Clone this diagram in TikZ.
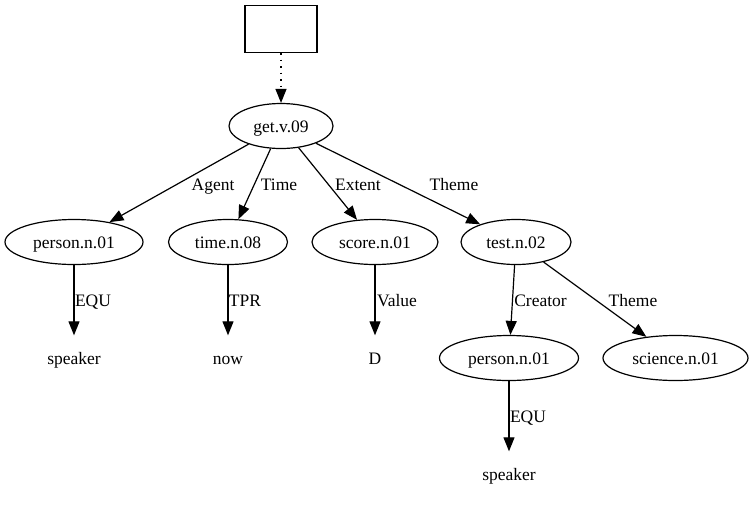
\documentclass[tikz,border=0pt]{standalone}
\usepackage{fontspec}
\setmainfont{Liberation Serif}
\usetikzlibrary{arrows.meta,shapes.geometric}
\begin{document}
\begin{tikzpicture}[x=1pt,y=-1pt,
  every node/.style={font=\fontsize{17.5}{20}\selectfont, inner sep=0pt, text height=14pt, text depth=2pt},
  concept/.style={draw, ellipse, line width=1.2pt, minimum height=45pt},
  leaf/.style={rectangle, minimum height=45pt},
  rootbox/.style={draw, rectangle, line width=1.2pt, minimum width=72pt, minimum height=47pt},
  edge/.style={line width=1.2pt, -{Triangle[length=14pt,width=11pt]}},
  dotedge/.style={edge, dash pattern=on 1.5pt off 5pt},
  lab/.style={fill=none}]
\useasboundingbox (0,0) rectangle (754,504);

% nodes
\node[rootbox] (top) at (281,29) {};
\node[concept, minimum width=104pt] (get) at (281,126) {get.v.09};

\node[concept, minimum width=138pt] (p1) at (74,242) {person.n.01};
\node[concept, minimum width=119pt] (time) at (228,242) {time.n.08};
\node[concept, minimum width=126pt] (score) at (375,242) {score.n.01};
\node[concept, minimum width=110pt] (test) at (516,242) {test.n.02};

\node[leaf] (spk1) at (74,358) {speaker};
\node[leaf] (now) at (228,358) {now};
\node[leaf] (d) at (375,358) {D};
\node[concept, minimum width=139pt] (p2) at (509,358) {person.n.01};
\node[concept, minimum width=145pt] (sci) at (675.5,358) {science.n.01};

\node[leaf] (spk2) at (509,474) {speaker};

% connectors
\draw[dotedge] (top) -- (get);
\draw[edge] (get) -- (p1);
\draw[edge] (get) -- (time);
\draw[edge] (get) -- (score);
\draw[edge] (get) -- (test);
\draw[edge] (p1) -- (spk1);
\draw[edge] (time) -- (now);
\draw[edge] (score) -- (d);
\draw[edge] (test) -- (p2);
\draw[edge] (test) -- (sci);
\draw[edge] (p2) -- (spk2);

% edge labels
\node[lab] (lAgent) at (213,184) {Agent};
\node[lab] (lTime) at (279,184) {Time};
\node[lab] (lExtent) at (358,184) {Extent};
\node[lab] (lTheme1) at (454,184) {Theme};
\node[lab] (lEqu1) at (93,300) {EQU};
\node[lab] (lTpr) at (245,300) {TPR};
\node[lab] (lValue) at (397,300) {Value};
\node[lab] (lCreator) at (540.5,300) {Creator};
\node[lab] (lTheme2) at (633,300) {Theme};
\node[lab] (lEqu2) at (528,416) {EQU};
\end{tikzpicture}
\end{document}
